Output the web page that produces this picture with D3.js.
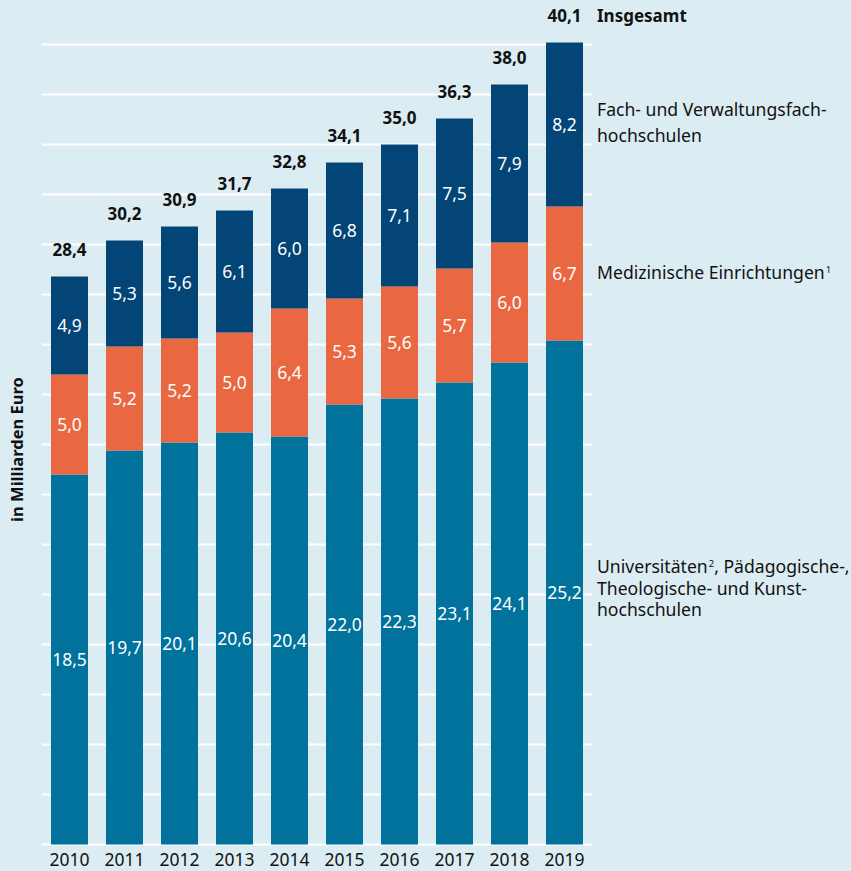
<!DOCTYPE html>
<html>
<head>
<meta charset="utf-8">
<script src="https://cdn.jsdelivr.net/npm/d3@7"></script>
<style>
  html, body { margin: 0; padding: 0; background: #dcecf3; }
  svg { display: block; font-family: "Noto Sans", "Open Sans", sans-serif; }
</style>
</head>
<body>
<svg id="chart" width="851" height="871"></svg>
<script>
// Ausgaben der Hochschulen in Milliarden Euro, 2010–2019
const years = ["2010", "2011", "2012", "2013", "2014", "2015", "2016", "2017", "2018", "2019"];
const universitaeten = [18.5, 19.7, 20.1, 20.6, 20.4, 22.0, 22.3, 23.1, 24.1, 25.2];
const medizin = [5.0, 5.2, 5.2, 5.0, 6.4, 5.3, 5.6, 5.7, 6.0, 6.7];
const fachhochschulen = [4.9, 5.3, 5.6, 6.1, 6.0, 6.8, 7.1, 7.5, 7.9, 8.2];
const insgesamt = [28.4, 30.2, 30.9, 31.7, 32.8, 34.1, 35.0, 36.3, 38.0, 40.1];
const gridTicks = d3.range(0, 40.01, 2.5);

const seriesKeys = ["uni", "med", "fach"];
const seriesColors = { uni: "#00729b", med: "#e96841", fach: "#034577" };

const rows = years.map((y, i) => ({
  year: y, uni: universitaeten[i], med: medizin[i], fach: fachhochschulen[i], total: insgesamt[i]
}));

const svg = d3.select("#chart");
const fmt = v => d3.format(".1f")(v).replace(".", ",");

const x = d3.scaleBand().domain(years).range([42, 592])
  .paddingInner(18 / 55).paddingOuter(9 / 55);
const y = d3.scaleLinear().domain([0, 40]).range([844.5, 44.5]);

// horizontal grid
svg.append("g").selectAll("line").data(gridTicks).join("line")
  .attr("x1", 42).attr("x2", 592)
  .attr("y1", d => y(d)).attr("y2", d => y(d))
  .attr("stroke", "#ffffff").attr("stroke-width", 2.2);

const stacked = d3.stack().keys(seriesKeys)(rows);

// stacked bars
const layers = svg.append("g").selectAll("g").data(stacked).join("g")
  .attr("fill", d => seriesColors[d.key]);
layers.selectAll("rect").data(d => d).join("rect")
  .attr("x", d => x(d.data.year))
  .attr("width", x.bandwidth())
  .attr("y", d => y(d[1]))
  .attr("height", d => y(d[0]) - y(d[1]));

// segment values
const labels = svg.append("g").attr("fill", "#ffffff").attr("font-size", 17.5)
  .attr("text-anchor", "middle");
stacked.forEach(layer => {
  labels.selectAll(null).data(layer).join("text")
    .attr("x", d => x(d.data.year) + x.bandwidth() / 2)
    .attr("y", d => y((d[0] + d[1]) / 2))
    .attr("dy", "0.36em")
    .text(d => fmt(d.data[layer.key]));
});

// totals
svg.append("g").selectAll("text").data(rows).join("text")
  .attr("x", d => x(d.year) + x.bandwidth() / 2)
  .attr("y", d => y(d.total) - 27)
  .attr("dy", "0.36em")
  .attr("text-anchor", "middle")
  .attr("font-size", 17).attr("font-weight", "bold").attr("fill", "#111")
  .text(d => fmt(d.total));

// year axis
const xAxis = svg.append("g").attr("transform", "translate(0,844.5)")
  .call(d3.axisBottom(x).tickSize(0).tickPadding(0));
xAxis.select(".domain").remove();
xAxis.selectAll("text").attr("font-size", 17.5).attr("fill", "#111")
  .attr("font-family", "'Noto Sans', 'Open Sans', sans-serif")
  .attr("y", 15.5).attr("dy", "0.36em");

// y axis title
svg.append("text")
  .attr("transform", "translate(17,449.5) rotate(-90)")
  .attr("text-anchor", "middle").attr("dy", "0.36em")
  .attr("font-size", 16.5).attr("font-weight", "bold").attr("fill", "#111")
  .text("in Milliarden Euro");

// series legend to the right of the last bar
const legendX = 597;
svg.append("text").attr("x", legendX).attr("y", 15.7).attr("dy", "0.36em")
  .attr("font-size", 17).attr("font-weight", "bold").attr("fill", "#111")
  .text("Insgesamt");

function multiline(lines, top, step) {
  const t = svg.append("text").attr("font-size", 17.6).attr("fill", "#111");
  lines.forEach((ln, i) => {
    const ts = t.append("tspan").attr("x", legendX).attr("y", top + i * step).attr("dy", "0.36em");
    ln.forEach(part => {
      const p = ts.append("tspan").text(part.text);
      if (part.sup) p.attr("font-size", 9.5).attr("dy", -6).attr("dx", 1);
      if (part.after) p.attr("dy", 6);
    });
  });
}

multiline([[{ text: "Fach- und Verwaltungsfach-" }], [{ text: "hochschulen" }]], 110, 26);
multiline([[{ text: "Medizinische Einrichtungen" }, { text: "1", sup: true }]], 273, 0);
multiline([
  [{ text: "Universitäten" }, { text: "2", sup: true }, { text: ", Pädagogische-,", after: true }],
  [{ text: "Theologische- und Kunst-" }],
  [{ text: "hochschulen" }]
], 566.5, 21.8);
</script>
</body>
</html>
